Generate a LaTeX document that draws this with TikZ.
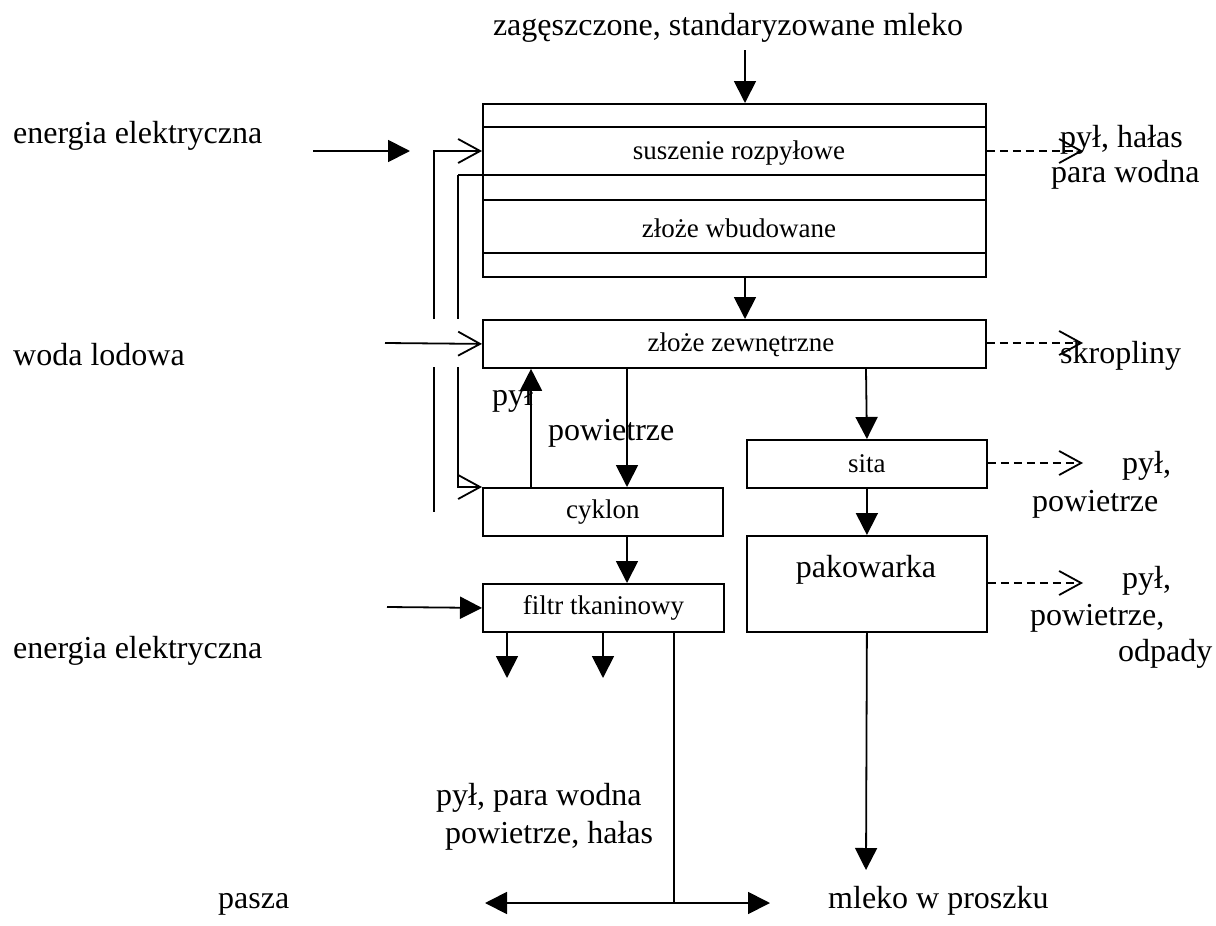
\documentclass[tikz,border=0pt]{standalone}
\usepackage{fontspec}
\setmainfont{Liberation Serif}
\usetikzlibrary{arrows.meta}
\begin{document}
\begin{tikzpicture}[x=1pt,y=-1pt,
  ln/.style={line width=1.8pt},
  arr/.style={ln,-{Triangle[length=22pt,width=22pt]}},
  darr/.style={ln,{Triangle[length=22pt,width=22pt]}-{Triangle[length=22pt,width=22pt]}},
  oarr/.style={ln,-{Straight Barb[length=22pt,width=24pt,line width=1.8pt]}},
  dsh/.style={oarr,dash pattern=on 8pt off 5pt},
  box/.style={draw,line width=1.8pt,inner sep=0pt,anchor=north west,font=\fontsize{27}{31}\selectfont},
  btxt/.style={font=\fontsize{27}{31}\selectfont,inner sep=0pt},
  lbl/.style={font=\fontsize{32}{38}\selectfont,inner sep=0pt,anchor=mid west}]
\useasboundingbox (0,0) rectangle (1216,926);

% ---------- boxes ----------
\node[box,minimum width=503pt,minimum height=173pt] (dryer) at (482,103) {};
\node[box,minimum width=503pt,minimum height=48pt] (zewn) at (482,319) {};
\node[box,minimum width=240pt,minimum height=48pt] (cyklon) at (482,487) {cyklon};
\node[box,minimum width=241pt,minimum height=48pt] (filtr) at (482,583) {filtr tkaninowy};
\node[box,minimum width=240pt,minimum height=48pt] (sita) at (746,439) {sita};
\node[box,minimum width=240pt,minimum height=96pt] (pak) at (746,535) {};

% inner strips of the dryer
\draw[ln] (482,127) -- (985,127);
\draw[ln] (458,175) -- (985,175);
\draw[ln] (482,200) -- (985,200);
\draw[ln] (482,253) -- (985,253);

% box texts
\node[btxt] (sus) at (739,153) {suszenie rozpyłowe};
\node[btxt] (wbud) at (739,228) {złoże wbudowane};
\node[btxt] (zewt) at (741,345) {złoże zewnętrzne};
\node[lbl,anchor=mid] (pakt) at (866,575) {pakowarka};

% ---------- labels ----------
\node[lbl,anchor=mid] (feed) at (728,33) {zagęszczone, standaryzowane mleko};
\node[lbl] (ee1) at (13,141) {energia elektryczna};
\node[lbl] (woda) at (13,363) {woda lodowa};
\node[lbl] (ee2) at (13,656) {energia elektryczna};
\node[lbl] (o1a) at (1060,145) {pył, hałas};
\node[lbl] (o1b) at (1051,180) {para wodna};
\node[lbl] (o2) at (1060,361) {skropliny};
\node[lbl] (o3a) at (1122,471) {pył,};
\node[lbl] (o3b) at (1032,509) {powietrze};
\node[lbl] (o4a) at (1122,586) {pył,};
\node[lbl] (o4b) at (1030,623) {powietrze,};
\node[lbl] (o4c) at (1118,659) {odpady};
\node[lbl] (pyl) at (492,403) {pył};
\node[lbl] (pow) at (548,438) {powietrze};
\node[lbl] (em1) at (436,803) {pył, para wodna};
\node[lbl] (em2) at (445,841) {powietrze, hałas};
\node[lbl] (pasza) at (218,906) {pasza};
\node[lbl] (mleko) at (828,906) {mleko w proszku};

% ---------- helper coordinates ----------
\coordinate (xa) at (745,0);
\coordinate (xb) at (531,0);
\coordinate (xc) at (627,0);
\coordinate (xd) at (866,0);
\coordinate (feedS) at (745,50);
\coordinate (e1S) at (313,151);
\coordinate (e1E) at (410,151);
\coordinate (wS) at (385,343);
\coordinate (e2S) at (387,607);
\coordinate (fo1) at (507,631);
\coordinate (fo1E) at (507,678);
\coordinate (fo2) at (603,631);
\coordinate (fo2E) at (603,678);
\coordinate (fo3) at (674,631);
\coordinate (fo3E) at (674,903);
\coordinate (bL) at (485,903);
\coordinate (bR) at (770,903);
\coordinate (pakE) at (866,870);
\coordinate (l1a) at (434,319);
\coordinate (l1b) at (434,367);
\coordinate (l1c) at (434,512);
\coordinate (l2a) at (458,175);
\coordinate (l2b) at (458,319);
\coordinate (l2c) at (458,367);
\coordinate (d1) at (1083,151);
\coordinate (d2) at (1083,343);
\coordinate (d3) at (1083,463);
\coordinate (d4) at (1083,583);

% ---------- connectors ----------
\draw[arr] (feedS) -- (feedS |- dryer.north);
\draw[arr] (e1S) -- (e1E);
\draw[oarr] (l1a) |- (dryer.west |- e1E);
\draw[ln] (l1b) -- (l1c);
\draw[ln] (l2a) -- (l2b);
\draw[oarr] (l2c) |- (cyklon.north west);
\draw[oarr] (wS) -- (zewn.west);
\draw[arr] (xa |- dryer.south) -- (xa |- zewn.north);
\draw[arr] (xb |- cyklon.north) -- (xb |- zewn.south);
\draw[arr] (xc |- zewn.south) -- (xc |- cyklon.north);
\draw[arr] (xc |- cyklon.south) -- (xc |- filtr.north);
\draw[arr] (e2S) -- (filtr.west);
\draw[arr] (fo1) -- (fo1E);
\draw[arr] (fo2) -- (fo2E);
\draw[ln] (fo3) -- (fo3E);
\draw[darr] (bL) -- (bR);
\draw[arr] (xd |- zewn.south) -- (sita.north);
\draw[arr] (sita.south) -- (pak.north);
\draw[arr] (pak.south) -- (pakE);

\draw[dsh] (dryer.east |- d1) -- (d1);
\draw[dsh] (zewn.east |- d2) -- (d2);
\draw[dsh] (sita.east |- d3) -- (d3);
\draw[dsh] (pak.east |- d4) -- (d4);
\end{tikzpicture}
\end{document}
